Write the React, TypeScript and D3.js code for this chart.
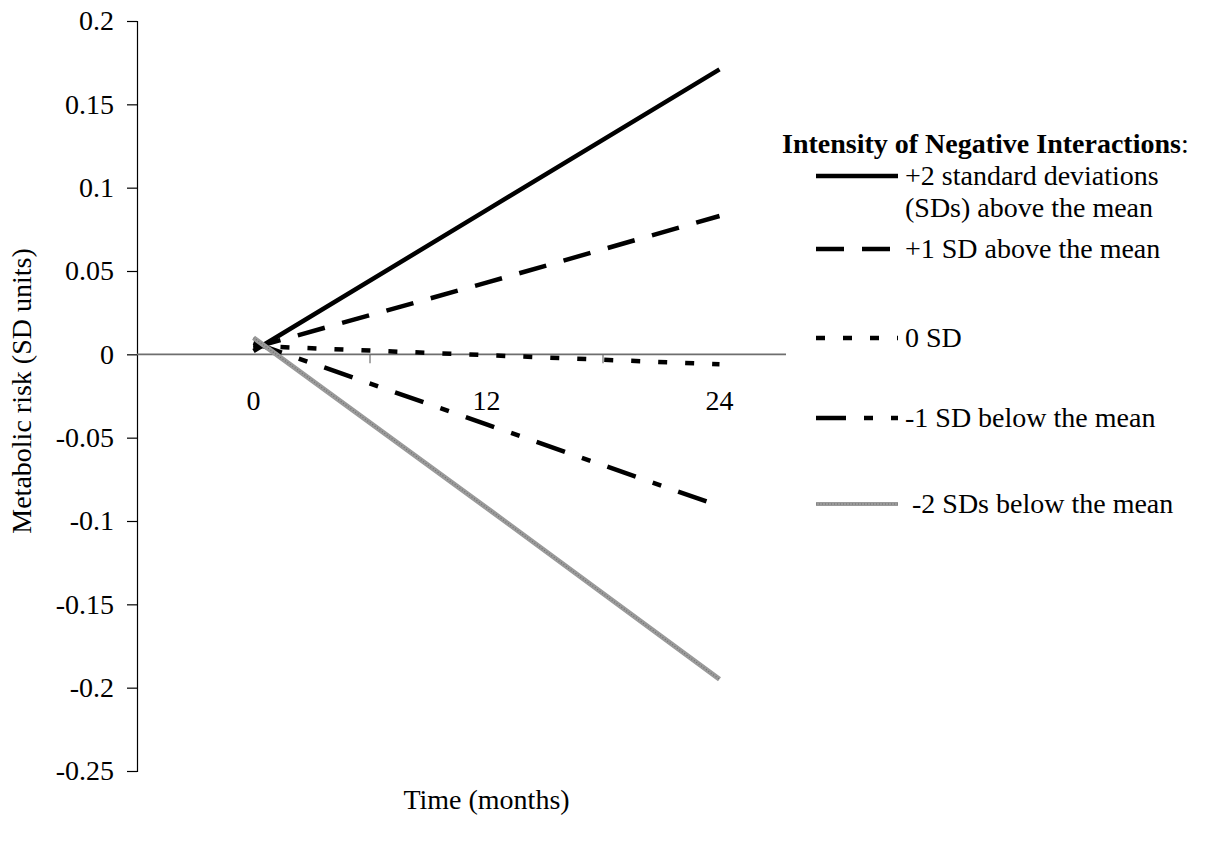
import React, { useEffect, useRef } from 'react';
import * as d3 from 'd3';

const months = ['0', '12', '24'];
const yTicks = [0.2, 0.15, 0.1, 0.05, 0, -0.05, -0.1, -0.15, -0.2, -0.25];

const plus2 = [0.002, 0.0865, 0.171];
const plus1 = [0.004, 0.043, 0.083];
const zero = [0.005, -0.0005, -0.006];
const minus1 = [0.007, -0.042, -0.091];
const minus2 = [0.010, -0.092, -0.195];

const seriesLabels = [
  ['+2 standard deviations', '(SDs) above the mean'],
  ['+1 SD above the mean'],
  ['0 SD'],
  ['-1 SD below the mean'],
  ['-2 SDs below the mean'],
];

const FONT = '"Liberation Serif", "Times New Roman", serif';
const FS = 28;

export default function App() {
  const svgRef = useRef<SVGSVGElement>(null);

  useEffect(() => {
    document.body.style.margin = '0';
    const svg = d3.select(svgRef.current);
    svg.selectAll('*').remove();

    const W = 1215;
    const H = 841;
    svg.attr('width', W).attr('height', H)
      .attr('font-family', FONT);

    const x = d3.scaleBand().domain(months).range([137, 836]);
    const cx = (m: string) => (x(m) ?? 0) + x.bandwidth() / 2;
    const y = d3.scaleLinear().domain([-0.25, 0.2]).range([771, 21]);

    const g = svg.append('g');

    // y axis
    const yAxis = g.append('g')
      .attr('transform', `translate(${x.range()[0]},0)`)
      .call(d3.axisLeft(y).tickValues(yTicks).tickSize(10).tickPadding(13)
        .tickFormat((d) => String(+d)));
    yAxis.attr('font-family', FONT).attr('font-size', FS);
    yAxis.select('.domain').attr('stroke', '#000').attr('stroke-width', 1.2);
    yAxis.selectAll('.tick line').attr('stroke', '#000').attr('stroke-width', 1.2);
    yAxis.selectAll('text')
      .attr('font-family', FONT)
      .attr('font-size', FS)
      .attr('fill', '#000');

    // x axis at y = 0
    const x0 = y(0);
    g.append('line')
      .attr('x1', x.range()[0]).attr('x2', x.range()[1])
      .attr('y1', x0).attr('y2', x0)
      .attr('stroke', '#6e6e6e').attr('stroke-width', 1.6);
    months.slice(1).forEach((m) => {
      g.append('line')
        .attr('x1', x(m)).attr('x2', x(m))
        .attr('y1', x0).attr('y2', x0 + 9)
        .attr('stroke', '#6e6e6e').attr('stroke-width', 1.2);
    });
    months.forEach((m) => {
      g.append('text')
        .attr('x', cx(m))
        .attr('y', x0 + 56)
        .attr('text-anchor', 'middle')
        .attr('font-size', FS)
        .text(m);
    });

    // axis titles
    svg.append('text')
      .attr('transform', `translate(31,${y(-0.022)}) rotate(-90)`)
      .attr('text-anchor', 'middle')
      .attr('font-size', FS)
      .text('Metabolic risk (SD units)');
    svg.append('text')
      .attr('x', cx('12'))
      .attr('y', 809)
      .attr('text-anchor', 'middle')
      .attr('font-size', FS)
      .text('Time (months)');

    const styles = [
      { data: plus2, dash: null, color: '#000', width: 4.5 },
      { data: plus1, dash: '28,18', color: '#000', width: 4.5 },
      { data: zero, dash: '9,18', color: '#000', width: 4.5 },
      { data: minus1, dash: '30,18,9,18', color: '#000', width: 4.5 },
      { data: minus2, dash: null, color: '#9a9a9a', width: 5 },
    ];

    const line = d3.line<number>()
      .x((_, i) => cx(months[i]))
      .y((d) => y(d));

    styles.forEach((s, idx) => {
      const p = g.append('path')
        .datum(s.data)
        .attr('d', line)
        .attr('fill', 'none')
        .attr('stroke', s.color)
        .attr('stroke-width', s.width);
      if (s.dash) p.attr('stroke-dasharray', s.dash);
      if (idx === 4) {
        g.append('path')
          .datum(s.data)
          .attr('d', line)
          .attr('fill', 'none')
          .attr('stroke', '#707070')
          .attr('stroke-width', 1.2)
          .attr('stroke-dasharray', '1,2');
      }
    });

    // legend (white box over the plot area)
    const lg = svg.append('g');
    lg.append('rect')
      .attr('x', 786).attr('y', 110)
      .attr('width', W - 786).attr('height', 440)
      .attr('fill', '#fff');

    const title = lg.append('text')
      .attr('x', 782)
      .attr('y', 153)
      .attr('font-size', FS);
    title.append('tspan').attr('font-weight', 'bold').text('Intensity of Negative Interactions');
    title.append('tspan').text(':');

    const rowY = [176, 249, 338, 418, 504];
    styles.forEach((s, i) => {
      const ly = rowY[i];
      const sample = lg.append('line')
        .attr('x1', 816).attr('x2', 898)
        .attr('y1', ly).attr('y2', ly)
        .attr('stroke', s.color)
        .attr('stroke-width', i === 4 ? 4 : 4.5);
      if (s.dash) sample.attr('stroke-dasharray', s.dash);
      if (i === 4) {
        lg.append('line')
          .attr('x1', 816).attr('x2', 898)
          .attr('y1', ly).attr('y2', ly)
          .attr('stroke', '#707070')
          .attr('stroke-width', 1)
          .attr('stroke-dasharray', '1,2');
      }
      seriesLabels[i].forEach((t, k) => {
        lg.append('text')
          .attr('x', i === 4 ? 912 : 905)
          .attr('y', ly + 9 + k * 32)
          .attr('font-size', FS)
          .text(t);
      });
    });
  }, []);

  return <svg ref={svgRef} style={{ display: 'block', background: '#fff' }} />;
}
